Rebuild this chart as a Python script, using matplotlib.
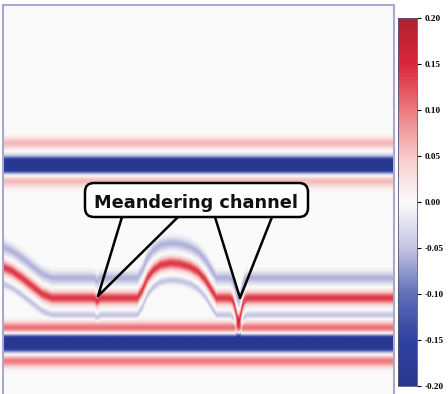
import numpy as np
import matplotlib
matplotlib.use("Agg")
import matplotlib.pyplot as plt
from matplotlib.colors import LinearSegmentedColormap
from matplotlib.patches import FancyBboxPatch

# picks of the meandering reflector (trace, time)
horizon_x = [3, 12, 22, 32, 42, 52, 70, 90, 110, 130, 137, 142, 147, 153, 160,
             170, 180, 190, 198, 205, 211, 216, 230, 260, 300, 340, 394]
horizon_y = [267, 271, 278, 286, 294, 298, 298, 298, 298, 298, 298, 290, 278,
             270, 265, 263, 264, 267, 272, 280, 290, 298, 298, 298, 298, 298, 298]

# channel incisions on that reflector
channel_x = [97, 238]
channel_depth = [3, 22]
channel_width = [2, 4]

# flat reflectors (time of the central trough)
flat_y = [165, 343]
flat_offsets = [[-22, 0, 16], [-15, 0, 18]]
flat_amps = [[0.06, -0.32, 0.06], [0.11, -0.32, 0.10]]
flat_widths = [[5.5, 7, 6], [6, 7.5, 6]]

# wavelet bands following the meandering reflector
mean_offsets = [-20, 0, 17]
mean_amps = [-0.06, 0.14, -0.05]
mean_widths = [6, 6, 3.5]

cbar_ticks = [0.20, 0.15, 0.10, 0.05, 0.00, -0.05, -0.10, -0.15, -0.20]
cmap_colors = ["#283890", "#3040a0", "#6070b8", "#c4c4e2", "#fbfbfb",
               "#f8c8c8", "#ec7a7e", "#d8283a", "#b02030"]

label = "Meandering channel"

xs = np.arange(3, 395)
ys = np.arange(5, 395)[:, None]

h = np.interp(xs, horizon_x, horizon_y).astype(float)
for cx, cd, cw in zip(channel_x, channel_depth, channel_width):
    h += cd * np.exp(-((xs - cx) / cw) ** 2)

field = np.zeros((ys.size, xs.size))
for y0, offs, amps, wids in zip(flat_y, flat_offsets, flat_amps, flat_widths):
    for o, a, w in zip(offs, amps, wids):
        field += a * np.exp(-((ys - (y0 + o)) / w) ** 2)
for o, a, w in zip(mean_offsets, mean_amps, mean_widths):
    field += a * np.exp(-((ys - (h[None, :] + o)) / w) ** 2)

cmap = LinearSegmentedColormap.from_list("rwb", cmap_colors)

fig = plt.figure(figsize=(4.48, 3.94), dpi=100)
ax = fig.add_axes([3 / 448, 0, 391 / 448, 389 / 394])
im = ax.imshow(field, extent=[2.5, 394.5, 394.5, 4.5], cmap=cmap,
               vmin=-0.2, vmax=0.2, aspect="auto", interpolation="bilinear")
ax.set_xlim(3, 394)
ax.set_ylim(394, 5)
ax.set_xticks([])
ax.set_yticks([])
for s in ["left", "top", "right"]:
    ax.spines[s].set_color("#a8a8d0")
    ax.spines[s].set_linewidth(1.5)
ax.spines["bottom"].set_visible(False)

# callout pointers
ax.plot([122, 98, 178], [217, 296, 217], color="black", lw=1.8, zorder=3)
ax.plot([215, 240, 272], [217, 298, 217], color="black", lw=1.8, zorder=3)
box = FancyBboxPatch((85, 183), 223, 34, boxstyle="round,pad=0,rounding_size=9",
                     fc="white", ec="black", lw=1.8, zorder=4)
ax.add_patch(box)
ax.text(196, 208, label, ha="center", va="baseline", fontsize=12.8,
        fontweight="bold", color="#111111", zorder=5)

cax = fig.add_axes([398 / 448, 1 - 386 / 394, 19 / 448, 368 / 394])
cb = fig.colorbar(im, cax=cax, ticks=cbar_ticks)
cb.outline.set_edgecolor("#555577")
cb.outline.set_linewidth(0.6)
cax.set_yticklabels(["%.2f" % t for t in cbar_ticks])
cax.tick_params(length=3, width=0.8, pad=2.5, labelsize=6.6)
for t in cax.get_yticklabels():
    t.set_fontfamily("Liberation Serif")
    t.set_fontweight("bold")

fig.savefig("out.png", dpi=100)
